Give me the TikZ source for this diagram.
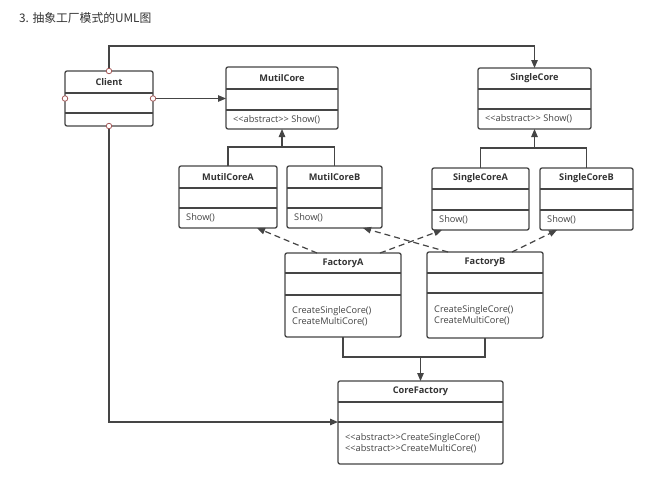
\documentclass[tikz,border=0pt]{standalone}
\usepackage{fontspec}
\setmainfont{Open Sans}
\newfontfamily\cjk{Noto Sans CJK SC}
\usetikzlibrary{arrows.meta,calc}
\definecolor{ln}{HTML}{454545}
\definecolor{tx}{HTML}{333333}
\definecolor{bt}{HTML}{444444}
\definecolor{cr}{HTML}{A55A5A}
\newcommand{\abs}{{<}{<}abstract{>}{>}}
\tikzset{
  classbox/.style={draw=ln, line width=1.3pt, rounded corners=2pt, inner sep=0pt, outer sep=0pt, fill=white},
  divline/.style={draw=ln, line width=1.2pt},
  titletext/.style={font=\fontsize{9.2}{10}\selectfont\bfseries, text=tx, inner sep=0pt},
  bodytext/.style={font=\fontsize{9.2}{11}\selectfont, text=bt, inner sep=0pt, anchor=west, align=left},
  conn/.style={draw=ln, line width=1.2pt},
  arr/.style={conn, -{Triangle[length=8pt,width=6.5pt]}},
  dasharr/.style={conn, dash pattern=on 6pt off 4pt, -{Triangle[length=8pt,width=6.5pt]}},
  port/.style={circle, draw=cr, fill=white, line width=0.8pt, inner sep=0pt, minimum size=5.5pt}
}
\newcommand{\umlclass}[9]{%
  \node[classbox, minimum width={#4-#2}, minimum height={#5-#3}, anchor=north west] (#1) at (#2,#3) {};
  \draw[divline] (#2,#6) -- (#4,#6);
  \draw[divline] (#2,#7) -- (#4,#7);
  \node[titletext] (#1-t) at ({(#2+#4)/2},{(#3+#6)/2}) {#8};
  \node[bodytext] (#1-b) at ({#2+7},{(#7+#5)/2}) {#9};
}
\begin{document}
\begin{tikzpicture}[x=1pt,y=-1pt]
\fill[white] (0,0) rectangle (658,482);
\useasboundingbox (0,0) rectangle (658,482);
\node[anchor=west, inner sep=0pt, text=tx, font=\cjk\fontsize{11.8}{14}\selectfont] (title) at (19,18) {3. 抽象工厂模式的UML图};

\umlclass{Client}{65}{71}{153}{126}{93}{113}{Client}{}
\umlclass{MutilCore}{226}{67}{338}{129}{89}{110}{MutilCore}{\abs{} Show()}
\umlclass{SingleCore}{478}{68}{591}{129}{89}{109}{SingleCore}{\abs{} Show()}
\umlclass{MutilCoreA}{179}{166}{277}{228}{188}{208}{MutilCoreA}{Show()}
\umlclass{MutilCoreB}{287}{166}{382}{228}{188}{208}{MutilCoreB}{Show()}
\umlclass{SingleCoreA}{432}{168}{529}{230}{189}{210}{SingleCoreA}{Show()}
\umlclass{SingleCoreB}{540}{168}{633}{230}{189}{210}{SingleCoreB}{Show()}
\umlclass{FactoryA}{285}{253}{401}{337}{273}{295}{FactoryA}{CreateSingleCore()\\CreateMultiCore()}
\umlclass{FactoryB}{427}{252}{543}{338}{273}{293}{FactoryB}{CreateSingleCore()\\CreateMultiCore()}
\umlclass{CoreFactory}{338}{381}{503}{464}{402}{422}{CoreFactory}{\abs CreateSingleCore()\\\abs CreateMultiCore()}

\coordinate (topy) at (0,46);
\coordinate (cfdiv) at (0,422);
\coordinate (jm) at (0,147);
\coordinate (js) at (0,148);
\coordinate (jf) at (0,357);

% Client associations
\draw[arr] (Client.north) -- (Client.north |- topy) -| (SingleCore.north);
\draw[arr] (Client.east) -- (Client.east -| MutilCore.west);
\draw[arr] (Client.south) |- (CoreFactory.west |- cfdiv);

% inheritance trees
\draw[conn] (MutilCoreA.north) |- (MutilCore.south |- jm) -| (MutilCoreB.north);
\draw[arr] (MutilCore.south |- jm) -- (MutilCore.south);
\draw[conn] (SingleCoreA.north) |- (SingleCore.south |- js) -| (SingleCoreB.north);
\draw[arr] (SingleCore.south |- js) -- (SingleCore.south);
\draw[conn] (FactoryA.south) |- (CoreFactory.north |- jf) -| (FactoryB.south);
\draw[arr] (CoreFactory.north |- jf) -- (CoreFactory.north);

% dependencies
\draw[dasharr] ([xshift=32pt]FactoryA.north west) -- ([xshift=-20pt]MutilCoreA.south east);
\draw[dasharr] ([xshift=-21pt]FactoryA.north east) -- ([xshift=10pt]SingleCoreA.south west);
\draw[dasharr] ([xshift=21pt]FactoryB.north west) -- ([xshift=-19pt]MutilCoreB.south east);
\draw[dasharr] ([xshift=-31pt]FactoryB.north east) -- ([xshift=17pt]SingleCoreB.south west);

% ports on Client
\node[port] (pt) at (Client.north) {};
\node[port] (pl) at (Client.west) {};
\node[port] (pr) at (Client.east) {};
\node[port] (pb) at (Client.south) {};
\end{tikzpicture}
\end{document}
